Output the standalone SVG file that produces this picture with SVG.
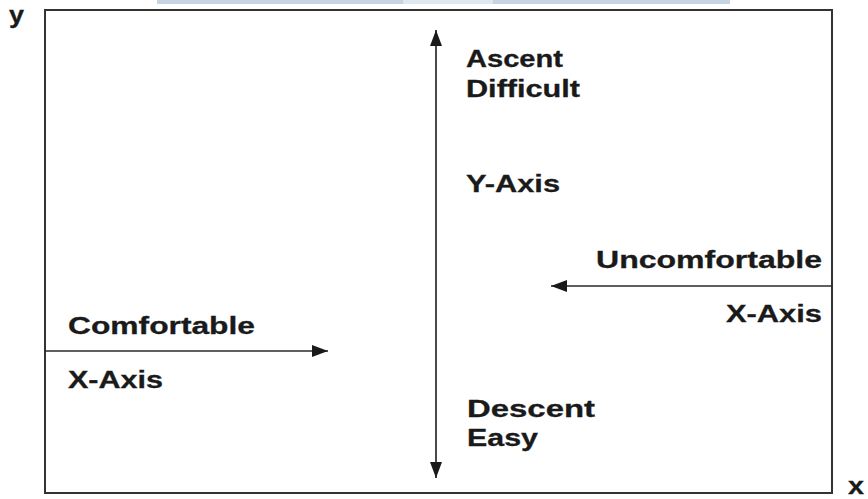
<svg xmlns="http://www.w3.org/2000/svg" width="868" height="499" viewBox="0 0 868 499">
<style>
.t{font-family:"Liberation Sans",Arial,sans-serif;font-weight:bold;font-size:23px;fill:#1a1a1a;stroke:#1a1a1a;stroke-width:0.3}
.ax{stroke:#2a2a2a;stroke-width:1.7;fill:none}
</style>
<defs>
<marker id="ah" viewBox="0 0 16 12" refX="16" refY="6" markerWidth="16" markerHeight="12" markerUnits="userSpaceOnUse" orient="auto">
<path d="M0,0 L16,6 L0,12 Z" fill="#1a1a1a"/>
</marker>
</defs>
<rect width="868" height="499" fill="#ffffff"/>
<g id="band">
<rect x="157" y="0" width="246" height="4" fill="#c6d3e0"/>
<rect x="403" y="0" width="90" height="4" fill="#dfe7ef"/>
<rect x="493" y="0" width="237" height="4" fill="#c6d3e0"/>
</g>
<g id="frame">
<rect x="45" y="10" width="787" height="483" fill="none" stroke="#333" stroke-width="2"/>
</g>
<g id="connectors">
<line class="ax" x1="436" y1="250" x2="436" y2="30" marker-end="url(#ah)"/>
<line class="ax" x1="436" y1="250" x2="436" y2="478" marker-end="url(#ah)"/>
<line class="ax" x1="45" y1="351" x2="328" y2="351" marker-end="url(#ah)"/>
<line class="ax" x1="832" y1="286" x2="551" y2="286" marker-end="url(#ah)"/>
</g>
<g id="label-y"><text class="t" x="9" y="23" textLength="15" lengthAdjust="spacingAndGlyphs">y</text></g>
<g id="label-x"><text class="t" x="848" y="494" textLength="16" lengthAdjust="spacingAndGlyphs">x</text></g>
<g id="ascent">
<text class="t" x="466" y="67" textLength="97" lengthAdjust="spacingAndGlyphs">Ascent</text>
<text class="t" x="466" y="97" textLength="114" lengthAdjust="spacingAndGlyphs">Difficult</text>
</g>
<g id="yaxis"><text class="t" x="466" y="192" textLength="94" lengthAdjust="spacingAndGlyphs">Y-Axis</text></g>
<g id="descent">
<text class="t" x="467" y="417" textLength="128" lengthAdjust="spacingAndGlyphs">Descent</text>
<text class="t" x="467" y="446" textLength="71" lengthAdjust="spacingAndGlyphs">Easy</text>
</g>
<g id="uncomfortable">
<text class="t" x="596" y="268" textLength="226" lengthAdjust="spacingAndGlyphs">Uncomfortable</text>
<text class="t" x="726" y="322" textLength="96" lengthAdjust="spacingAndGlyphs">X-Axis</text>
</g>
<g id="comfortable">
<text class="t" x="68" y="334" textLength="187" lengthAdjust="spacingAndGlyphs">Comfortable</text>
<text class="t" x="68" y="388" textLength="95" lengthAdjust="spacingAndGlyphs">X-Axis</text>
</g>
</svg>
